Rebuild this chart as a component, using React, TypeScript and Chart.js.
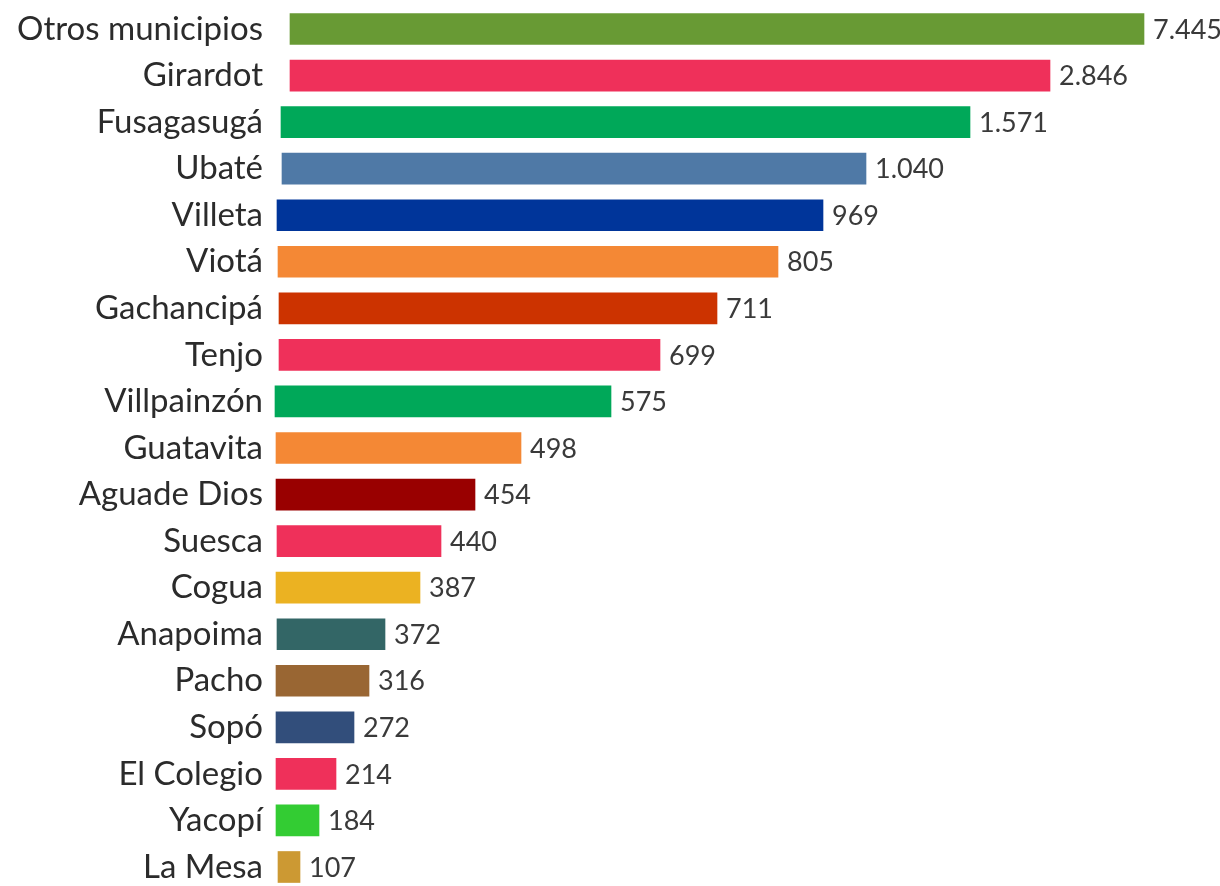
import React, { useEffect, useRef } from "react";
import { Chart, registerables } from "chart.js";

Chart.register(...registerables);

// Municipality names (top to bottom)
const categories = [
  "Otros municipios",
  "Girardot",
  "Fusagasugá",
  "Ubaté",
  "Villeta",
  "Viotá",
  "Gachancipá",
  "Tenjo",
  "Villpainzón",
  "Guatavita",
  "Aguade Dios",
  "Suesca",
  "Cogua",
  "Anapoima",
  "Pacho",
  "Sopó",
  "El Colegio",
  "Yacopí",
  "La Mesa",
];

// Printed values
const values = [7445, 2846, 1571, 1040, 969, 805, 711, 699, 575, 498, 454, 440, 387, 372, 316, 272, 214, 184, 107];

// Displayed bar extents (design units; the infographic does not draw bars to scale)
const barStart = [15, 15, 6, 7, 2, 3, 4, 4, 0, 1, 1, 2, 1, 2, 1, 1, 1, 1, 3];
const barEnd = [869, 775, 695, 591, 548, 503, 442, 385, 336, 246, 200, 166, 145, 110, 94, 79, 61, 44, 25];

const barColors = [
  "#689a34",
  "#ef305a",
  "#00a859",
  "#4f79a6",
  "#00359a",
  "#f48835",
  "#cc3300",
  "#ef305a",
  "#00a859",
  "#f48835",
  "#990000",
  "#ef305a",
  "#ebb222",
  "#336666",
  "#996633",
  "#324e7b",
  "#ef305a",
  "#33cc33",
  "#cc9933",
];

const FONT = "Lato, 'Open Sans', sans-serif";

const fmt = (v: number) => String(v).replace(/\B(?=(\d{3})+(?!\d))/g, ".");

const textLabels = {
  id: "textLabels",
  afterDatasetsDraw(chart: any) {
    const ctx = chart.ctx;
    const meta = chart.getDatasetMeta(0);
    const yScale = chart.scales.y;
    ctx.save();
    ctx.textBaseline = "middle";
    // category labels
    ctx.font = `400 33px ${FONT}`;
    ctx.fillStyle = "#2b2b2b";
    ctx.textAlign = "right";
    categories.forEach((c, i) => {
      ctx.fillText(c, chart.chartArea.left - 12, yScale.getPixelForValue(i));
    });
    // value labels
    ctx.font = `400 27px ${FONT}`;
    ctx.fillStyle = "#3a3a3a";
    ctx.textAlign = "left";
    meta.data.forEach((bar: any, i: number) => {
      ctx.fillText(fmt(values[i]), bar.x + 9, bar.y + 1);
    });
    ctx.restore();
  },
};

export default function App() {
  const canvasRef = useRef<HTMLCanvasElement | null>(null);

  useEffect(() => {
    if (!canvasRef.current) return;
    const chart = new Chart(canvasRef.current, {
      type: "bar",
      data: {
        labels: categories,
        datasets: [
          {
            data: barStart.map((s, i) => [s, barEnd[i]]) as any,
            backgroundColor: barColors,
            borderWidth: 0,
            borderSkipped: false,
            barThickness: 31,
            clip: false as any,
          },
        ],
      },
      options: {
        indexAxis: "y",
        responsive: false,
        animation: false,
        layout: { padding: { top: 29, bottom: 19, left: 0, right: 45 } },
        plugins: {
          legend: { display: false },
          tooltip: { enabled: false },
        },
        scales: {
          x: {
            type: "linear",
            min: 0,
            max: 900,
            display: false,
          },
          y: {
            type: "category",
            offset: false,
            grid: { display: false, drawTicks: false },
            border: { display: false },
            ticks: { display: false },
            afterFit: (scale: any) => {
              scale.width = 275;
            },
          },
        },
      },
      plugins: [textLabels],
    });
    return () => chart.destroy();
  }, []);

  return (
    <div style={{ position: "absolute", left: 0, top: 0, width: 1220, height: 886, background: "#fff" }}>
      <canvas ref={canvasRef} width={1220} height={886} style={{ display: "block" }} />
    </div>
  );
}
